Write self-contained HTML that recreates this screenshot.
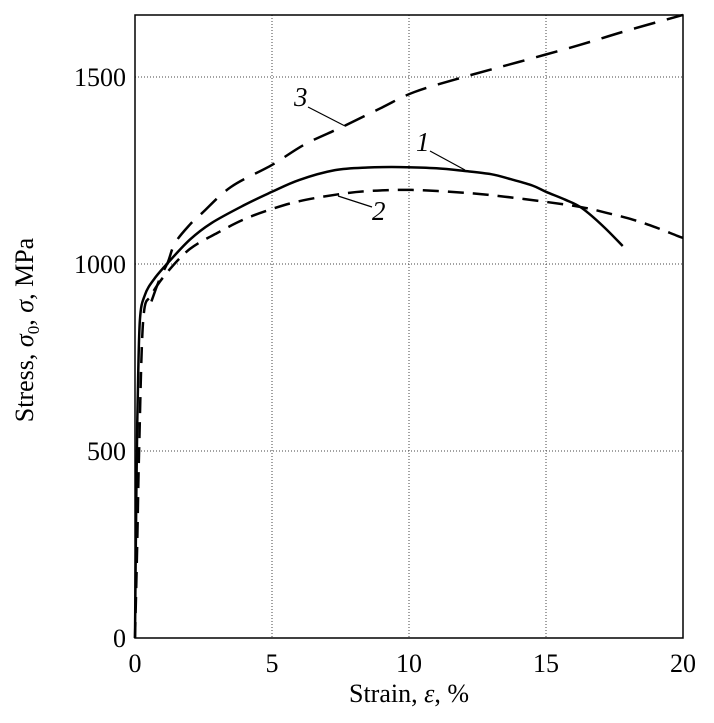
<!DOCTYPE html>
<html><head><meta charset="utf-8"><style>body{margin:0;background:#fff}svg{display:block;font-family:"Liberation Serif",serif}</style></head>
<body>
<svg id="chart" width="714" height="723"></svg>
<script>
const xTicks=[0,5,10,15,20];
const yTicks=[0,500,1000,1500];
const strain1=[0,0.05,0.1,0.18,0.36,0.7,1.2,2,2.8,4,5,6,7.3,8.5,9.7,11,12,13,13.7,14.5,15,15.7,16.3,17.1,17.8];
const stress1=[0,400,636,850,917,960,1003,1065,1110,1158,1193,1225,1251,1258,1259,1256,1249,1240,1227,1210,1193,1172,1150,1100,1048];
const strain2=[0,0.08,0.15,0.3,0.6,1.2,2,3,4,5,6,7.3,8.5,10.1,12.1,13.5,15,16.3,17.2,18.2,19,19.8,20];
const stress2=[0,250,500,850,917,980,1040,1083,1120,1147,1168,1185,1195,1198,1190,1180,1166,1152,1137,1118,1098,1075,1070];
const strain3=[0.6,0.9,1.2,1.46,2,2.45,3.5,5,6.2,7.55,9,10.2,12,14,16.2,18,20];
const stress3=[900,960,1005,1056,1105,1136,1206,1265,1320,1366,1418,1460,1500,1540,1585,1625,1666];
const NS="http://www.w3.org/2000/svg";
const svg=document.getElementById('chart');
const X0=135,X1=683,Y0=638,YT=15;
const xs=e=>X0+(e/20)*(X1-X0);
const ys=s=>Y0-s*(Y0-77)/1500;
function mk(t,a){const el=document.createElementNS(NS,t);for(const k in a)el.setAttribute(k,a[k]);svg.appendChild(el);return el;}
for(const t of xTicks){if(t>0&&t<20){const g=mk('line',{x1:xs(t),x2:xs(t),y1:YT,y2:Y0,stroke:'#444','stroke-width':1,'stroke-dasharray':'1,2'});

}
const l=mk('text',{x:xs(t),y:Y0+34,'text-anchor':'middle','font-size':26});l.textContent=t;

}
for(const t of yTicks){if(t>0){const g=mk('line',{x1:X0,x2:X1,y1:ys(t),y2:ys(t),stroke:'#444','stroke-width':1,'stroke-dasharray':'1,2'});

}
const l=mk('text',{x:X0-9,y:ys(t)+9,'text-anchor':'end','font-size':26});l.textContent=t;

}
const fr=mk('rect',{x:X0,y:YT,width:X1-X0,height:Y0-YT,fill:'none',stroke:'#000','stroke-width':1.5});


function curve(xa,ya,dash,name){
const P=xa.map((e,i)=>[xs(e),ys(ya[i])]);
let d='M'+P[0][0].toFixed(1)+','+P[0][1].toFixed(1);
for(let i=0;i<P.length-1;i++){const p0=P[Math.max(i-1,0)],p1=P[i],p2=P[i+1],p3=P[Math.min(i+2,P.length-1)];
const c1=[p1[0]+(p2[0]-p0[0])/6,p1[1]+(p2[1]-p0[1])/6],c2=[p2[0]-(p3[0]-p1[0])/6,p2[1]-(p3[1]-p1[1])/6];
d+='C'+c1.map(v=>v.toFixed(1)).join(',')+' '+c2.map(v=>v.toFixed(1)).join(',')+' '+p2[0].toFixed(1)+','+p2[1].toFixed(1);}
const p=mk('path',{d:d,fill:'none',stroke:'#000','stroke-width':2.5,'stroke-dasharray':dash,'stroke-linejoin':'round'});

}
curve(strain1,stress1,'none','curve-1');
curve(strain2,stress2,'16,9','curve-2');
curve(strain3,stress3,'22,12','curve-3');
function lbl(txt,x,y,lx1,ly1,lx2,ly2,name){const t=mk('text',{x:x,y:y,'font-size':27,'font-style':'italic'});t.textContent=txt;


const l=mk('line',{x1:lx1,y1:ly1,x2:lx2,y2:ly2,stroke:'#000','stroke-width':1.2});

}
lbl('3',294,106,308,107,345,126,'label-3');
lbl('1',416,151,430,151,465,170,'label-1');
lbl('2',372,220,372,207,338,196,'label-2');
const xt=mk('text',{x:409,y:702,'text-anchor':'middle','font-size':26});xt.innerHTML='Strain, <tspan font-style="italic">ε</tspan>, %';


const yt=mk('text',{x:0,y:0,'text-anchor':'middle','font-size':26,transform:'translate(33,330) rotate(-90)'});
yt.innerHTML='Stress, <tspan font-style="italic">σ</tspan><tspan font-size="17" dy="6">0</tspan><tspan dy="-6">, </tspan><tspan font-style="italic">σ</tspan>, MPa';


</script>
</body></html>
